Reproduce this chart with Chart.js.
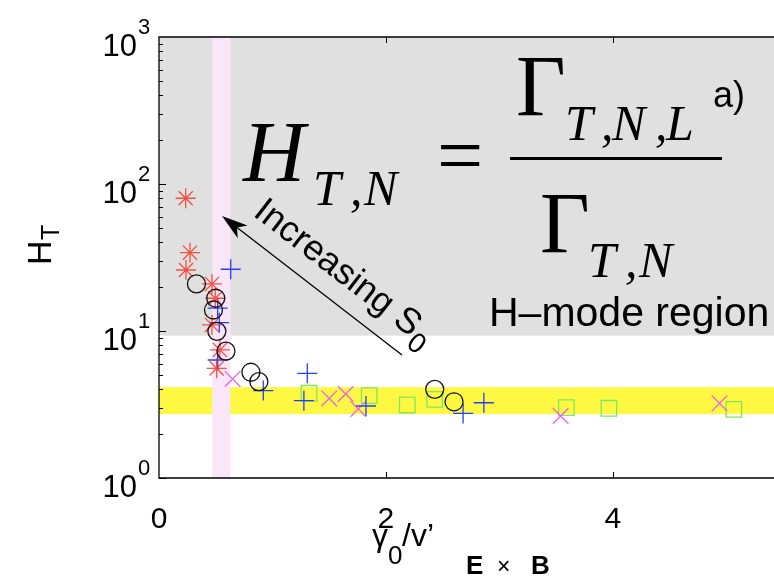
<!DOCTYPE html>
<html>
<head>
<meta charset="utf-8">
<script src="https://cdn.jsdelivr.net/npm/chart.js@4/dist/chart.umd.min.js"></script>
<style>
  html, body { margin: 0; padding: 0; background: #fff; overflow: hidden; }
  canvas { display: block; }
</style>
</head>
<body>
<canvas id="c" width="774" height="581"></canvas>
<script>
// Normalised shear rate gamma0/v'ExB (x) against confinement factor H_T (y), one pair of arrays per scan
const circleX = [0.33, 0.50, 0.48, 0.51, 0.59, 0.81, 0.88, 2.43, 2.60];
const circleY = [20.9, 16.7, 13.9, 9.95, 7.3, 5.24, 4.52, 4.01, 3.30];
const starX   = [0.235, 0.273, 0.238, 0.467, 0.496, 0.467, 0.537, 0.508];
const starY   = [80.0, 34.1, 26.0, 20.9, 16.7, 11.0, 7.43, 5.57];
const plusX   = [0.632, 0.517, 0.531, 0.517, 0.919, 1.307, 1.277, 1.824, 2.68, 2.863];
const plusY   = [26.3, 14.3, 11.4, 6.35, 3.93, 5.15, 3.36, 3.09, 2.75, 3.25];
const crossX  = [0.649, 1.50, 1.645, 1.756, 3.54, 4.94];
const crossY  = [4.72, 3.48, 3.73, 2.95, 2.64, 3.22];
const squareX = [1.322, 1.853, 2.188, 2.43, 3.59, 3.965, 5.066];
const squareY = [3.77, 3.63, 3.14, 3.43, 3.01, 2.98, 2.93];

// Axis ticks and limits (the right part of the axes runs past the page edge)
const xTicks = [0, 2, 4];
const xRange = [0, 5.42];
const yTicks = [1, 10, 100, 1000];
const yTickExp = ['0', '1', '2', '3'];

// Shaded regions
const hModeFloor = 9.3;        // H-mode region lies above this H_T
const bandY = [2.72, 4.15];    // L-mode level band
const bandX = [0.47, 0.63];    // transition band in gamma0/v'ExB

const zip = (xs, ys) => xs.map((x, i) => ({ x, y: ys[i] }));

const SANS = '"Liberation Sans", Arial, sans-serif';
const SERIF = '"Liberation Serif", "Times New Roman", serif';

const regions = {
  id: 'regions',
  beforeDatasetsDraw(chart) {
    const { ctx, chartArea: a, scales: { x, y } } = chart;
    ctx.save();
    ctx.beginPath();
    ctx.rect(a.left, a.top, a.right - a.left, a.bottom - a.top);
    ctx.clip();
    const yh = y.getPixelForValue(hModeFloor);
    ctx.fillStyle = '#e0e0e0';
    ctx.fillRect(a.left, a.top, a.right - a.left, yh - a.top);
    const yb0 = y.getPixelForValue(bandY[1]);
    const yb1 = y.getPixelForValue(bandY[0]);
    ctx.fillStyle = '#fff843';
    ctx.fillRect(a.left, yb0, a.right - a.left, yb1 - yb0);
    const xb0 = x.getPixelForValue(bandX[0]);
    const xb1 = x.getPixelForValue(bandX[1]);
    ctx.fillStyle = '#f9e6f9';
    ctx.fillRect(xb0, a.top, xb1 - xb0, a.bottom - a.top);
    ctx.restore();
  }
};

function txt(ctx, s, x, y, font, align) {
  ctx.font = font;
  ctx.textAlign = align || 'left';
  ctx.fillText(s, x, y);
}

const frame = {
  id: 'frame',
  afterDatasetsDraw(chart) {
    const { ctx, chartArea: a, scales: { x, y } } = chart;
    ctx.save();
    ctx.strokeStyle = '#000';
    ctx.fillStyle = '#000';
    ctx.lineWidth = 1.3;
    ctx.beginPath();
    ctx.moveTo(a.right + 2, a.top); ctx.lineTo(a.left, a.top);
    ctx.lineTo(a.left, a.bottom); ctx.lineTo(a.right + 2, a.bottom);
    ctx.stroke();

    // inward ticks: log minor/major on the left axis, majors on bottom and top
    ctx.lineWidth = 1;
    ctx.beginPath();
    for (let d = 0; d < 3; d++) {
      const base = Math.pow(10, d);
      for (let m = 1; m <= 9; m++) {
        const py = Math.round(y.getPixelForValue(base * m)) + 0.5;
        const len = m === 1 ? 7 : 4;
        ctx.moveTo(a.left, py); ctx.lineTo(a.left + len, py);
      }
    }
    xTicks.forEach(v => {
      if (v === 0) return;
      const px = Math.round(x.getPixelForValue(v)) + 0.5;
      ctx.moveTo(px, a.bottom); ctx.lineTo(px, a.bottom - 6);
      ctx.moveTo(px, a.top); ctx.lineTo(px, a.top + 6);
    });
    ctx.stroke();

    ctx.textBaseline = 'alphabetic';
    xTicks.forEach(v => {
      txt(ctx, String(v), x.getPixelForValue(v), a.bottom + 50, '30px ' + SANS, 'center');
    });
    yTicks.forEach((v, i) => {
      const py = y.getPixelForValue(v);
      txt(ctx, '10', 137, py + 19, '31px ' + SANS, 'right');
      txt(ctx, yTickExp[i], 138, py - 3, '22px ' + SANS, 'left');
    });

    // y axis title H_T
    ctx.save();
    ctx.translate(51, 265);
    ctx.rotate(-Math.PI / 2);
    txt(ctx, 'H', 0, 0, '34px ' + SANS);
    txt(ctx, 'T', 25, 8, '25px ' + SANS);
    ctx.restore();

    // x axis title gamma0 / v'ExB
    txt(ctx, 'γ', 372, 546, '32px ' + SANS);
    txt(ctx, '0', 388, 564, '26px ' + SANS);
    txt(ctx, '/v’', 402, 546, '32px ' + SANS);
    txt(ctx, 'E', 466, 574, 'bold 26px ' + SANS);
    txt(ctx, '×', 497, 574, '23px ' + SANS);
    txt(ctx, 'B', 531, 574, 'bold 26px ' + SANS);

    // definition of the confinement factor
    txt(ctx, 'H', 243, 181, 'italic 86px ' + SERIF);
    txt(ctx, 'T', 313, 205, 'italic 50px ' + SERIF);
    txt(ctx, ',', 350, 205, 'italic 50px ' + SERIF);
    txt(ctx, 'N', 364, 205, 'italic 50px ' + SERIF);
    txt(ctx, '=', 437, 183, '82px ' + SERIF);
    ctx.fillRect(510, 157, 212, 3);
    txt(ctx, 'Γ', 516, 115, '86px ' + SERIF);
    txt(ctx, 'T', 565, 140, 'italic 50px ' + SERIF);
    txt(ctx, ',', 601, 140, 'italic 50px ' + SERIF);
    txt(ctx, 'N', 612, 140, 'italic 50px ' + SERIF);
    txt(ctx, ',', 655, 140, 'italic 50px ' + SERIF);
    txt(ctx, 'L', 666, 140, 'italic 50px ' + SERIF);
    txt(ctx, 'a)', 713, 107, '36px ' + SANS);
    txt(ctx, 'Γ', 540, 252, '86px ' + SERIF);
    txt(ctx, 'T', 588, 277, 'italic 50px ' + SERIF);
    txt(ctx, ',', 625, 277, 'italic 50px ' + SERIF);
    txt(ctx, 'N', 639, 277, 'italic 50px ' + SERIF);

    txt(ctx, 'H–mode region', 489, 326, '41px ' + SANS);

    // arrow pointing the way S0 increases
    const tip = [222, 216], tail = [402, 355];
    const ang = Math.atan2(tail[1] - tip[1], tail[0] - tip[0]);
    ctx.lineWidth = 1.3;
    ctx.beginPath();
    ctx.moveTo(tail[0], tail[1]);
    ctx.lineTo(tip[0] + 12 * Math.cos(ang), tip[1] + 12 * Math.sin(ang));
    ctx.stroke();
    ctx.save();
    ctx.translate(tip[0], tip[1]);
    ctx.rotate(ang);
    ctx.beginPath();
    ctx.moveTo(0, 0);
    ctx.lineTo(26, -8);
    ctx.lineTo(19, 0);
    ctx.lineTo(26, 8);
    ctx.closePath();
    ctx.fill();
    ctx.restore();

    ctx.save();
    ctx.translate(252, 215);
    ctx.rotate(ang);
    ctx.font = '36px ' + SANS;
    ctx.textAlign = 'left';
    ctx.fillText('Increasing S', 0, 0);
    const w = ctx.measureText('Increasing S').width;
    txt(ctx, '0', w + 1, 10, '28px ' + SANS);
    ctx.restore();

    ctx.restore();
  }
};

// hidden axes: keep the plot area exactly inside the layout padding
const noPad = scale => { scale.paddingLeft = 0; scale.paddingRight = 0; scale.paddingTop = 0; scale.paddingBottom = 0; };

const lw = 1.3;
new Chart(document.getElementById('c'), {
  type: 'scatter',
  data: {
    datasets: [
      { data: zip(circleX, circleY), pointStyle: 'circle', pointRadius: 9,
        borderColor: '#111', backgroundColor: 'rgba(0,0,0,0)', pointBorderWidth: lw },
      { data: zip(starX, starY), pointStyle: 'star', pointRadius: 10,
        borderColor: 'rgba(245,45,25,0.8)', backgroundColor: 'rgba(0,0,0,0)', pointBorderWidth: lw },
      { data: zip(plusX, plusY), pointStyle: 'cross', pointRadius: 10,
        borderColor: '#2440ff', backgroundColor: 'rgba(0,0,0,0)', pointBorderWidth: lw },
      { data: zip(crossX, crossY), pointStyle: 'crossRot', pointRadius: 11,
        borderColor: '#ee5ff0', backgroundColor: 'rgba(0,0,0,0)', pointBorderWidth: lw },
      { data: zip(squareX, squareY), pointStyle: 'rect', pointRadius: 11,
        borderColor: '#7ee85c', backgroundColor: 'rgba(0,0,0,0)', pointBorderWidth: lw }
    ]
  },
  options: {
    responsive: false,
    animation: false,
    events: [],
    layout: { autoPadding: false, padding: { left: 159, top: 37, right: 0, bottom: 103 } },
    plugins: { legend: { display: false }, tooltip: { enabled: false } },
    scales: {
      x: { type: 'linear', min: xRange[0], max: xRange[1], display: false, afterFit: noPad },
      y: { type: 'logarithmic', min: 1, max: 1000, display: false, afterFit: noPad }
    }
  },
  plugins: [regions, frame]
});
</script>
</body>
</html>
